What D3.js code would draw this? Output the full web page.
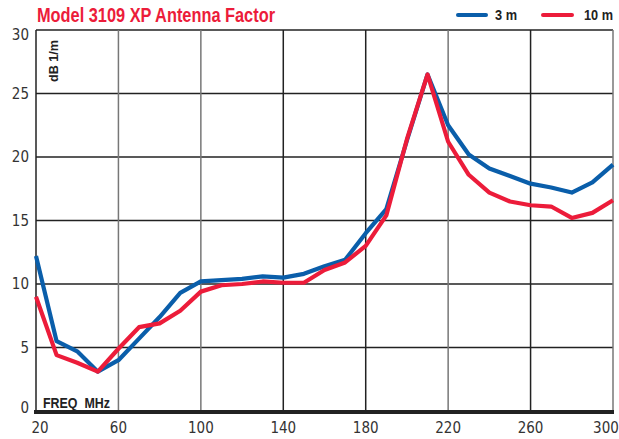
<!DOCTYPE html>
<html>
<head>
<meta charset="utf-8">
<script src="https://cdn.jsdelivr.net/npm/d3@7"></script>
<style>
  html, body { margin: 0; padding: 0; background: #fff; }
  svg { display: block; }
  .cond { font-family: "Liberation Sans Narrow", "DejaVu Sans Condensed", "Liberation Sans", sans-serif; }
  .bold { font-family: "Liberation Sans", Arial, sans-serif; font-weight: bold; }
</style>
</head>
<body>
<svg id="chart" width="619" height="439"></svg>
<script>
// Antenna factor (dB 1/m) vs frequency, 3 m and 10 m measurement distances
const freqs = [20, 30, 40, 50, 60, 70, 80, 90, 100, 110, 120, 130, 140, 150, 160, 170, 180, 190, 200, 210, 220, 230, 240, 250, 260, 270, 280, 290, 300];
const af3m  = [12.2, 5.5, 4.7, 3.1, 4.0, 5.7, 7.4, 9.3, 10.2, 10.3, 10.4, 10.6, 10.5, 10.8, 11.4, 11.9, 14.0, 15.9, 21.3, 26.5, 22.5, 20.2, 19.1, 18.5, 17.9, 17.6, 17.2, 18.0, 19.4];
const af10m = [9.0, 4.4, 3.8, 3.1, 4.9, 6.6, 6.9, 7.9, 9.4, 9.9, 10.0, 10.2, 10.1, 10.1, 11.1, 11.7, 13.0, 15.4, 21.4, 26.5, 21.2, 18.6, 17.2, 16.5, 16.2, 16.1, 15.2, 15.6, 16.6];
const xTicks = [20, 60, 100, 140, 180, 220, 260, 300];
const yTicks = [0, 5, 10, 15, 20, 25, 30];
const seriesNames = ["3 m", "10 m"];
const seriesColors = ["#0a5eaa", "#ec1c3a"];

const svg = d3.select("#chart");
const plotL = 36, plotR = 613, plotT = 30, plotB = 411;

const x = d3.scaleLinear().domain([20, 300]).range([plotL, plotR]);
const y = d3.scaleLinear().domain([0, 30]).range([plotB, plotT]);

// grid
const grid = svg.append("g");
grid.selectAll("line.h").data(yTicks.filter(d => d > 0)).join("line")
  .attr("class", "h")
  .attr("x1", plotL).attr("x2", plotR)
  .attr("y1", d => y(d)).attr("y2", d => y(d))
  .attr("stroke", "#222").attr("stroke-width", 1.3);
grid.selectAll("line.v").data(xTicks).join("line")
  .attr("class", "v")
  .attr("x1", d => x(d)).attr("x2", d => x(d))
  .attr("y1", plotT).attr("y2", plotB)
  .attr("stroke", d => (d === 140 || d === 180 || d === 260 || d === 20) ? "#222" : "#777")
  .attr("stroke-width", 1.5);

// bottom axis bar
svg.append("line")
  .attr("x1", plotL - 2).attr("x2", plotR + 1)
  .attr("y1", plotB + 1).attr("y2", plotB + 1)
  .attr("stroke", "#222").attr("stroke-width", 4);

// tick labels
svg.append("g").selectAll("text").data(yTicks).join("text")
  .attr("class", "cond")
  .attr("x", 29)
  .attr("y", d => y(d) + (d === 30 ? 10 : d === 0 ? 2 : 5))
  .attr("text-anchor", "end")
  .attr("font-size", 15)
  .attr("fill", "#333")
  .text(d => d);

svg.append("g").selectAll("text").data(xTicks).join("text")
  .attr("class", "cond")
  .attr("x", d => x(d) + (d === 20 ? 4 : d === 300 ? -7 : 0))
  .attr("y", 433)
  .attr("text-anchor", "middle")
  .attr("font-size", 15)
  .attr("fill", "#333")
  .text(d => d);

// series lines
const line = d3.line().x((d, i) => x(freqs[i])).y(d => y(d));
[af3m, af10m].forEach((vals, k) => {
  svg.append("path")
    .datum(vals)
    .attr("d", line)
    .attr("fill", "none")
    .attr("stroke", seriesColors[k])
    .attr("stroke-width", 4.2)
    .attr("stroke-linejoin", "round");
});

// title
svg.append("text")
  .attr("class", "bold")
  .attr("x", 37).attr("y", 22)
  .attr("font-size", 20)
  .attr("textLength", 238).attr("lengthAdjust", "spacingAndGlyphs")
  .attr("fill", "#ec1c3a")
  .text("Model 3109 XP Antenna Factor");

// legend
const legend = [
  { x1: 458, x2: 486, tx: 495, w: 22 },
  { x1: 543, x2: 572, tx: 584, w: 29 }
];
legend.forEach((l, k) => {
  svg.append("line")
    .attr("x1", l.x1).attr("x2", l.x2).attr("y1", 15).attr("y2", 15)
    .attr("stroke", seriesColors[k]).attr("stroke-width", 4).attr("stroke-linecap", "round");
  svg.append("text")
    .attr("class", "bold")
    .attr("x", l.tx).attr("y", 20)
    .attr("font-size", 14).attr("fill", "#222")
    .attr("textLength", l.w).attr("lengthAdjust", "spacingAndGlyphs")
    .text(seriesNames[k]);
});

// axis titles
svg.append("text")
  .attr("class", "bold")
  .attr("transform", "translate(58,61) rotate(-90)")
  .attr("text-anchor", "middle")
  .attr("font-size", 13).attr("fill", "#222")
  .attr("textLength", 42).attr("lengthAdjust", "spacingAndGlyphs")
  .text("dB 1/m");

svg.append("text")
  .attr("class", "bold")
  .attr("x", 43).attr("y", 408)
  .attr("font-size", 14).attr("fill", "#222")
  .attr("textLength", 67).attr("lengthAdjust", "spacingAndGlyphs")
  .text("FREQ\u00a0\u00a0MHz");
</script>
</body>
</html>
